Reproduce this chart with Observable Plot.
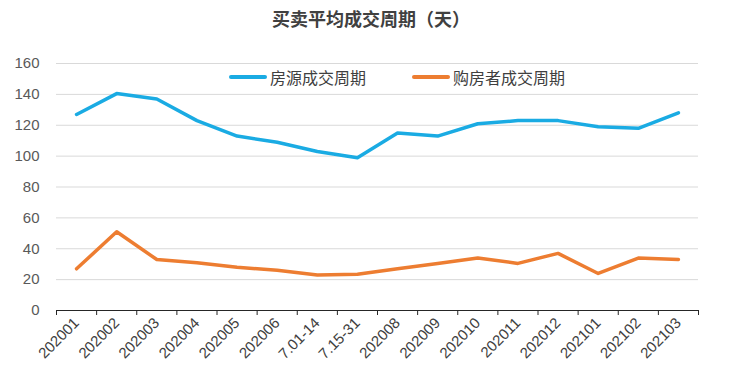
<!DOCTYPE html>
<html><head><meta charset="utf-8">
<script src="https://cdn.jsdelivr.net/npm/d3@7"></script>
<script src="https://cdn.jsdelivr.net/npm/@observablehq/plot@0.6"></script>
<style>
body{margin:0;background:#fff;}
#wrap{position:relative;width:742px;height:369px;font-family:"Liberation Sans","DejaVu Sans",sans-serif;}
#title{position:absolute;left:0;top:5px;width:742px;text-align:center;font:bold 18px "Noto Sans CJK SC",sans-serif;color:#404040;}
.leg{position:absolute;top:65px;font:16px "Noto Sans CJK SC",sans-serif;color:#404040;display:flex;align-items:center;}
.leg span.sw{display:inline-block;width:38px;height:4px;border-radius:2px;margin-right:3px;}
</style></head>
<body><div id="wrap"><div id="title">买卖平均成交周期（天）</div>
<div class="leg" style="left:229px"><span class="sw" style="background:#1AABE3"></span>房源成交周期</div>
<div class="leg" style="left:412px"><span class="sw" style="background:#ED7D31"></span>购房者成交周期</div>
</div>
<script>
const categories = ["202001","202002","202003","202004","202005","202006","7.01-14","7.15-31","202008","202009","202010","202011","202012","202101","202102","202103"];
const listingCycle = [127,140.5,137,123,113,109,103,99,115,113,121,123,123,119,118,128];
const buyerCycle = [27,51,33,31,28,26,23,23.5,27,30.5,34,30.5,37,24,34,33];
const seriesNames = ["房源成交周期","购房者成交周期"];
const yTicks = [0,20,40,60,80,100,120,140,160];

const data = [];
categories.forEach((c,i)=>{
  data.push({i:i+0.5, v:listingCycle[i], s:seriesNames[0]});
  data.push({i:i+0.5, v:buyerCycle[i], s:seriesNames[1]});
});

const chart = Plot.plot({
  width:742, height:369,
  marginLeft:56, marginRight:44, marginTop:63, marginBottom:59,
  x:{domain:[0,categories.length]},
  y:{domain:[0,160]},
  color:{domain:seriesNames, range:["#1AABE3","#ED7D31"]},
  style:{fontFamily:"Liberation Sans, DejaVu Sans, sans-serif", color:"#595959"},
  marks:[
    Plot.gridY(yTicks.filter(d=>d>0), {stroke:"#d9d9d9", strokeOpacity:1, strokeWidth:1}),
    Plot.axisY({ticks:yTicks, tickSize:0, tickPadding:17, fontSize:15, label:null, fill:"#595959"}),
    Plot.ruleY([0], {stroke:"#262626", strokeWidth:1}),
    Plot.axisX({ticks:d3.range(categories.length+1), tickSize:5, tickFormat:()=>"", label:null, stroke:"#262626"}),
    Plot.axisX({ticks:d3.range(categories.length).map(i=>i+0.5), tickSize:0, tickPadding:10, tickRotate:-45, tickFormat:d=>categories[Math.floor(d)], fontSize:15, label:null, fill:"#404040"}),
    Plot.line(data, {x:"i", y:"v", z:"s", stroke:"s", strokeWidth:3.5, strokeLinejoin:"round", strokeLinecap:"round"})
  ]
});
document.getElementById("wrap").appendChild(chart);
chart.style.position="absolute"; chart.style.left="0"; chart.style.top="0";
</script></body></html>
